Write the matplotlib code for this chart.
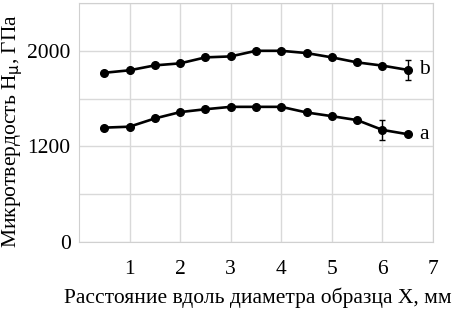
import matplotlib
matplotlib.use("Agg")
import matplotlib.pyplot as plt

plt.rcParams['font.family'] = ['Liberation Serif', 'DejaVu Serif']

x = [0.5, 1.0, 1.5, 2.0, 2.5, 3.0, 3.5, 4.0, 4.5, 5.0, 5.5, 6.0, 6.5]
hv_b = [1816, 1837, 1878, 1895, 1945, 1953, 2000, 2000, 1981, 1945, 1903, 1876, 1840]
hv_a = [1357, 1365, 1434, 1487, 1511, 1531, 1531, 1531, 1484, 1453, 1420, 1338, 1302]
err_b = [0, 0, 0, 0, 0, 0, 0, 0, 0, 0, 0, 0, 85]
err_a = [0, 0, 0, 0, 0, 0, 0, 0, 0, 0, 0, 85, 0]

yticks = [400, 1200, 2000]
ytick_labels = ["0", "1200", "2000"]
xticks = [1, 2, 3, 4, 5, 6, 7]

fs = 15.5

fig = plt.figure(figsize=(4.57, 3.13), dpi=100)
ax = fig.add_axes([79 / 457, 1 - 242 / 313, (433 - 79) / 457, (242 - 3) / 313])

for y, e in [(hv_b, err_b), (hv_a, err_a)]:
    ax.errorbar(x, y, yerr=e, color='black', lw=1.9, marker='o', ms=5.5,
                elinewidth=1.0, capsize=2.5, capthick=1.0)

ax.text(6.72, hv_b[-1], "b", fontsize=fs, va='center', ha='left')
ax.text(6.72, hv_a[-1], "a", fontsize=fs, va='center', ha='left')

ax.set_xlim(0, 7)
ax.set_ylim(400, 2400)
ax.set_xticks(xticks)
ax.set_yticks(range(400, 2401, 400), minor=True)
ax.set_yticks(yticks)
ax.set_yticklabels(ytick_labels)
ax.grid(True, which='both', color='#d9d9d9', lw=1.0)
ax.set_axisbelow(True)
ax.tick_params(which='both', length=0, labelsize=fs)
ax.tick_params(axis='x', pad=13)
ax.tick_params(axis='y', pad=6)
for s in ax.spines.values():
    s.set_color('#d0d0d0')

xl = ax.set_xlabel("Расстояние вдоль диаметра образца X, мм", fontsize=fs)
yl = ax.set_ylabel("Микротвердость H$_\\mathrm{\\mu}$, ГПа", fontsize=fs)
xl.set_va('center')
yl.set_va('center')
ax.xaxis.set_label_coords((258 - 79) / 354, -(298 - 242) / 239)
ax.yaxis.set_label_coords((13 - 79) / 354, (242 - 131) / 239)

fig.savefig("out.png", dpi=100)
